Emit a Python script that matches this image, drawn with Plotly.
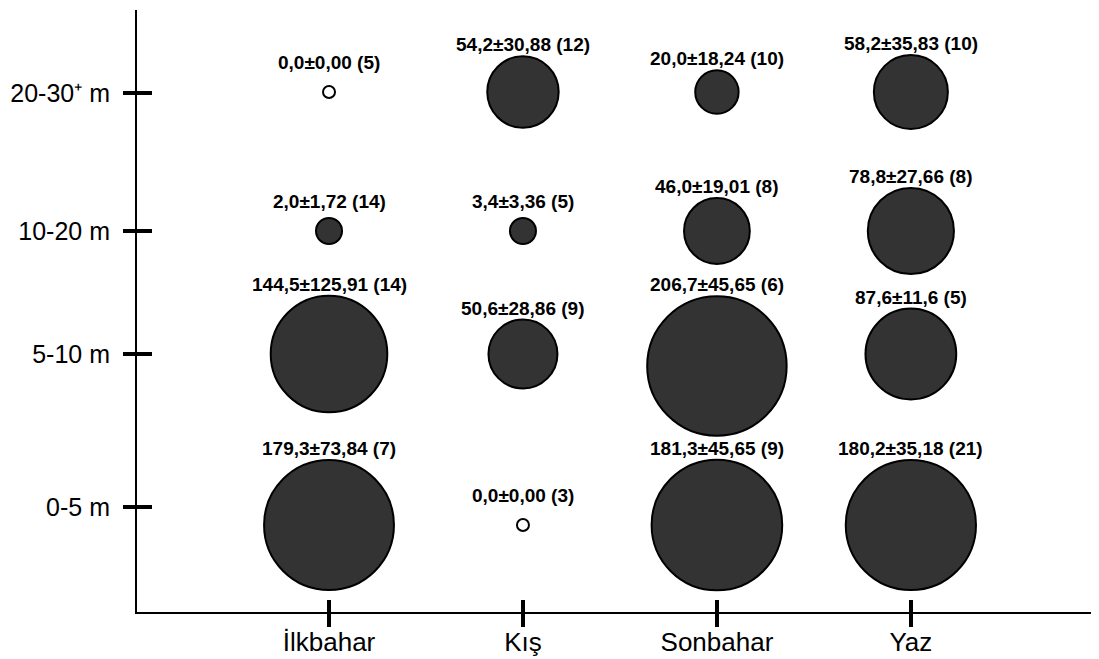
import plotly.graph_objects as go
import math

seasons = ["İlkbahar", "Kış", "Sonbahar", "Yaz"]
depths = ["0-5 m", "5-10 m", "10-20 m", "20-30⁺ m"]

# mean values per season, ordered by depth (0-5, 5-10, 10-20, 20-30+)
mean_ilkbahar = [179.3, 144.5, 2.0, 0.0]
mean_kis = [0.0, 50.6, 3.4, 54.2]
mean_sonbahar = [181.3, 206.7, 46.0, 20.0]
mean_yaz = [180.2, 87.6, 78.8, 58.2]

sd_ilkbahar = ["73,84", "125,91", "1,72", "0,00"]
sd_kis = ["0,00", "28,86", "3,36", "30,88"]
sd_sonbahar = ["45,65", "45,65", "19,01", "18,24"]
sd_yaz = ["35,18", "11,6", "27,66", "35,83"]

n_ilkbahar = [7, 14, 14, 5]
n_kis = [3, 9, 5, 12]
n_sonbahar = [9, 6, 8, 10]
n_yaz = [21, 5, 8, 10]

means = [mean_ilkbahar, mean_kis, mean_sonbahar, mean_yaz]
sds = [sd_ilkbahar, sd_kis, sd_sonbahar, sd_yaz]
ns = [n_ilkbahar, n_kis, n_sonbahar, n_yaz]

# layout: vertical position of each depth row (axis units) and bubble row centre
row_tick_pos = [105, 258, 381, 519]
row_bubble_pos = [87, 258, 381, 520]
bubble_y_adjust = {(2, 1): -12}

FONT = "Liberation Sans, Arial, sans-serif"

def diameter(v):
    if v <= 0:
        return 12
    return max(26, 9.7 * math.sqrt(v))

xs, ys, sizes, fills, texts = [], [], [], [], []
for i, s in enumerate(seasons):
    for j, d in enumerate(depths):
        v = means[i][j]
        xs.append(i)
        ys.append(row_bubble_pos[j] + bubble_y_adjust.get((i, j), 0))
        sizes.append(diameter(v))
        fills.append("#333333" if v > 0 else "#ffffff")
        texts.append(f"{v:.1f}".replace(".", ",") + "±" + sds[i][j] + f" ({ns[i][j]})")

fig = go.Figure()
fig.add_trace(go.Scatter(
    x=xs, y=ys, mode="markers",
    marker=dict(size=sizes, sizemode="diameter", color=fills,
                line=dict(color="#000000", width=2), opacity=1),
    hoverinfo="skip", showlegend=False,
))
fig.add_trace(go.Scatter(x=[None], y=[None], xaxis="x2", yaxis="y2",
                         showlegend=False, hoverinfo="skip"))

for x, y, sz, t in zip(xs, ys, sizes, texts):
    fig.add_annotation(x=x, y=y, text="<b>" + t + "</b>", showarrow=False, xref="x", yref="y",
                       yanchor="bottom", yshift=max(sz / 2 - 1, 17),
                       font=dict(family=FONT, size=19, color="#000000"))

fig.update_layout(
    width=1091, height=651,
    margin=dict(l=129, r=0, t=2, b=47),
    paper_bgcolor="#ffffff", plot_bgcolor="#ffffff",
    xaxis=dict(range=[-0.99, 3.97], tickvals=list(range(len(seasons))), ticktext=seasons,
               showgrid=False, zeroline=False, showline=True, linecolor="#000000", linewidth=2,
               ticks="outside", ticklen=13, tickwidth=4, tickcolor="#000000",
               ticklabelstandoff=-7,
               tickfont=dict(family=FONT, size=26, color="#000000")),
    xaxis2=dict(overlaying="x", matches="x", anchor="y", side="bottom",
                tickvals=list(range(len(seasons))), showticklabels=False,
                showgrid=False, zeroline=False, showline=False,
                ticks="inside", ticklen=12, tickwidth=4, tickcolor="#000000"),
    yaxis=dict(range=[0, 602], tickvals=row_tick_pos, ticktext=depths,
               showgrid=False, zeroline=False, showline=True, linecolor="#000000", linewidth=2,
               ticks="outside", ticklen=12, tickwidth=4, tickcolor="#000000",
               ticklabelstandoff=8,
               tickfont=dict(family=FONT, size=25, color="#000000")),
    yaxis2=dict(overlaying="y", matches="y", anchor="x", side="left",
                tickvals=row_tick_pos, showticklabels=False,
                showgrid=False, zeroline=False, showline=False,
                ticks="inside", ticklen=15, tickwidth=4, tickcolor="#000000"),
)

fig.write_html("out.html")
